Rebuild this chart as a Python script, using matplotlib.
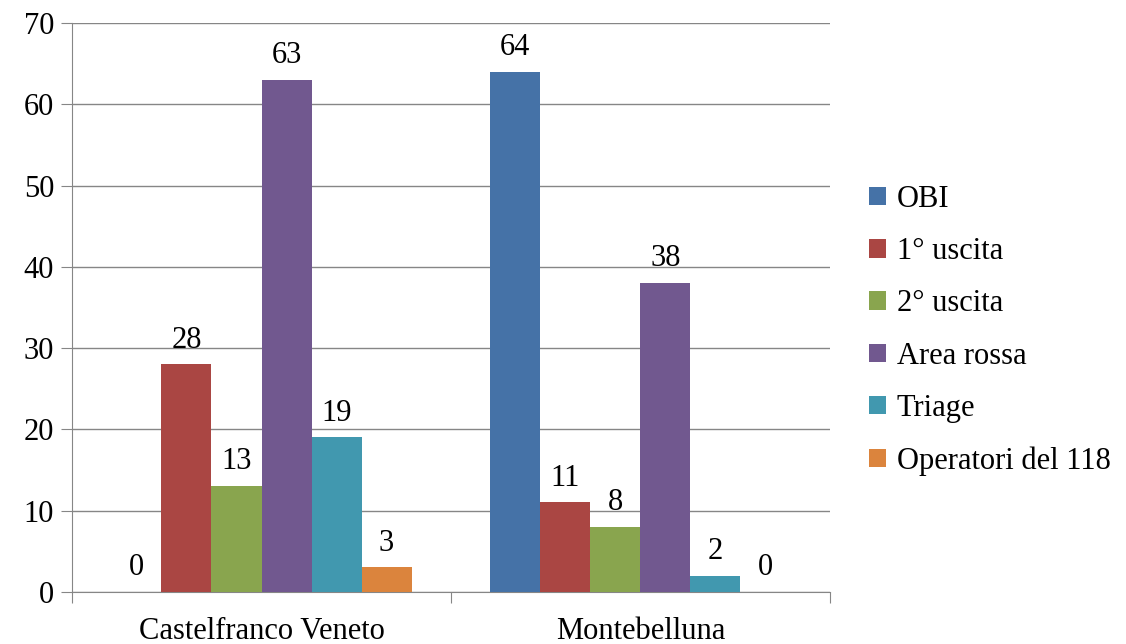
import numpy as np
import matplotlib
matplotlib.use("Agg")
import matplotlib.pyplot as plt

# ---- dati ----
categories = ["Castelfranco Veneto", "Montebelluna"]
series = ["OBI", "1° uscita", "2° uscita", "Area rossa", "Triage", "Operatori del 118"]
values = {
    "OBI": [0, 64],
    "1° uscita": [28, 11],
    "2° uscita": [13, 8],
    "Area rossa": [63, 38],
    "Triage": [19, 2],
    "Operatori del 118": [3, 0],
}
colors = ["#4572A7", "#AA4643", "#89A54E", "#71588F", "#4198AF", "#DB843D"]

plt.rcParams["font.family"] = ["Liberation Serif", "DejaVu Serif"]
FS = 22

fig = plt.figure(figsize=(11.26, 6.44), dpi=100)
ax = fig.add_axes([0.064, 0.081, 0.673, 0.883])

x = np.arange(len(categories))
w = 0.132
n = len(series)
for i, (s, c) in enumerate(zip(series, colors)):
    pos = x + (i - (n - 1) / 2) * w
    ax.bar(pos, values[s], w, color=c, label=s, zorder=3)
    for p, v in zip(pos, values[s]):
        ax.text(p, v + 1.2, str(v), ha="center", va="bottom", fontsize=FS)

ax.set_xlim(-0.5, 1.5)
ax.set_ylim(0, 70)
ax.set_yticks(range(0, 71, 10))
ax.tick_params(axis="y", labelsize=FS, length=8, color="#868686", pad=5)
ax.yaxis.grid(True, color="#868686", linewidth=1, zorder=0)
ax.set_xticks([-0.5, 0.5, 1.5])
ax.set_xticklabels([])
ax.set_xticks(x, minor=True)
ax.set_xticklabels(categories, minor=True, fontsize=FS)
ax.tick_params(axis="x", which="major", length=8, color="#868686")
ax.tick_params(axis="x", which="minor", length=0, pad=18)
for sp in ["top", "right"]:
    ax.spines[sp].set_visible(False)
for sp in ["left", "bottom"]:
    ax.spines[sp].set_color("#868686")

ax.legend(loc="center left", bbox_to_anchor=(1.052, 0.46), frameon=False,
          fontsize=FS, handlelength=0.55, handleheight=0.55, handletextpad=0.35,
          labelspacing=0.76, borderaxespad=0, borderpad=0)

fig.savefig("out.png", dpi=100)
